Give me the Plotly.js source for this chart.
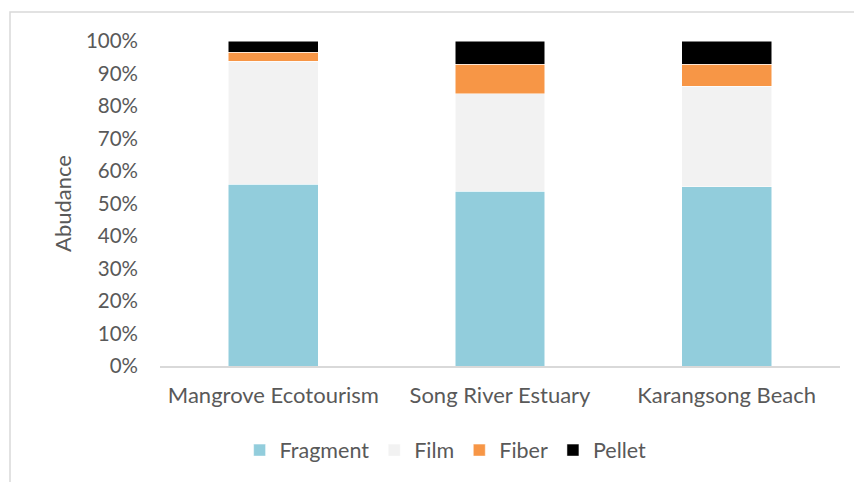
<!DOCTYPE html>
<html>
<head>
<meta charset="utf-8">
<script src="https://cdn.plot.ly/plotly-3.0.1.min.js"></script>
<style>
html,body{margin:0;padding:0;background:#fff;}
#chart{width:854px;height:482px;}
</style>
</head>
<body>
<div id="chart"></div>
<script>
const categories = ["Mangrove Ecotourism", "Song River Estuary", "Karangsong Beach"];
const fragment = [55.9, 53.8, 55.2];
const film = [37.9, 29.9, 30.9];
const fiber = [2.7, 9.2, 6.8];
const pellet = [3.5, 7.1, 7.1];
const seriesNames = ["Fragment", "Film", "Fiber", "Pellet"];
const seriesColors = ["#92cddc", "#f2f2f2", "#f79646", "#000000"];
const seriesValues = [fragment, film, fiber, pellet];

const traces = seriesValues.map((vals, i) => ({
  type: "bar",
  name: seriesNames[i],
  x: categories,
  y: vals,
  marker: {color: seriesColors[i], line: {color: "#ffffff", width: 0.5}},
  hoverinfo: "skip"
}));

const fam = "Lato, Open Sans, sans-serif";
const grey = "#595959";

const layout = {
  width: 854, height: 482,
  margin: {l: 160, r: 14, t: 41, b: 115},
  paper_bgcolor: "#ffffff",
  plot_bgcolor: "#ffffff",
  barmode: "stack",
  bargap: 0.603,
  font: {family: fam, size: 20.5, color: grey},
  showlegend: true,
  legend: {
    orientation: "h", x: 0.42, xanchor: "center", y: -0.255, yanchor: "middle",
    font: {family: fam, size: 21.5, color: grey}, traceorder: "normal", itemwidth: 30
  },
  xaxis: {
    showgrid: false, showline: true, linecolor: "#d9d9d9", linewidth: 1.5,
    ticks: "", tickfont: {family: fam, size: 22, color: grey}, ticklabelstandoff: 9, fixedrange: true
  },
  yaxis: {
    range: [0, 100], dtick: 10, ticksuffix: "%", showgrid: false, zeroline: false,
    showline: false, ticks: "", tickfont: {family: fam, size: 20.5, color: grey}, ticklabelstandoff: 21,
    title: {text: "Abudance", font: {family: fam, size: 22, color: grey}, standoff: 8},
    fixedrange: true
  },
  shapes: [{
    type: "rect", xref: "paper", yref: "paper",
    x0: -150/680, x1: 900/680, y0: -130/326, y1: (367-12)/326,
    line: {color: "#d9d9d9", width: 1.5}, fillcolor: "rgba(0,0,0,0)", layer: "below"
  }]
};

Plotly.newPlot("chart", traces, layout, {staticPlot: true, displayModeBar: false});
</script>
</body>
</html>
